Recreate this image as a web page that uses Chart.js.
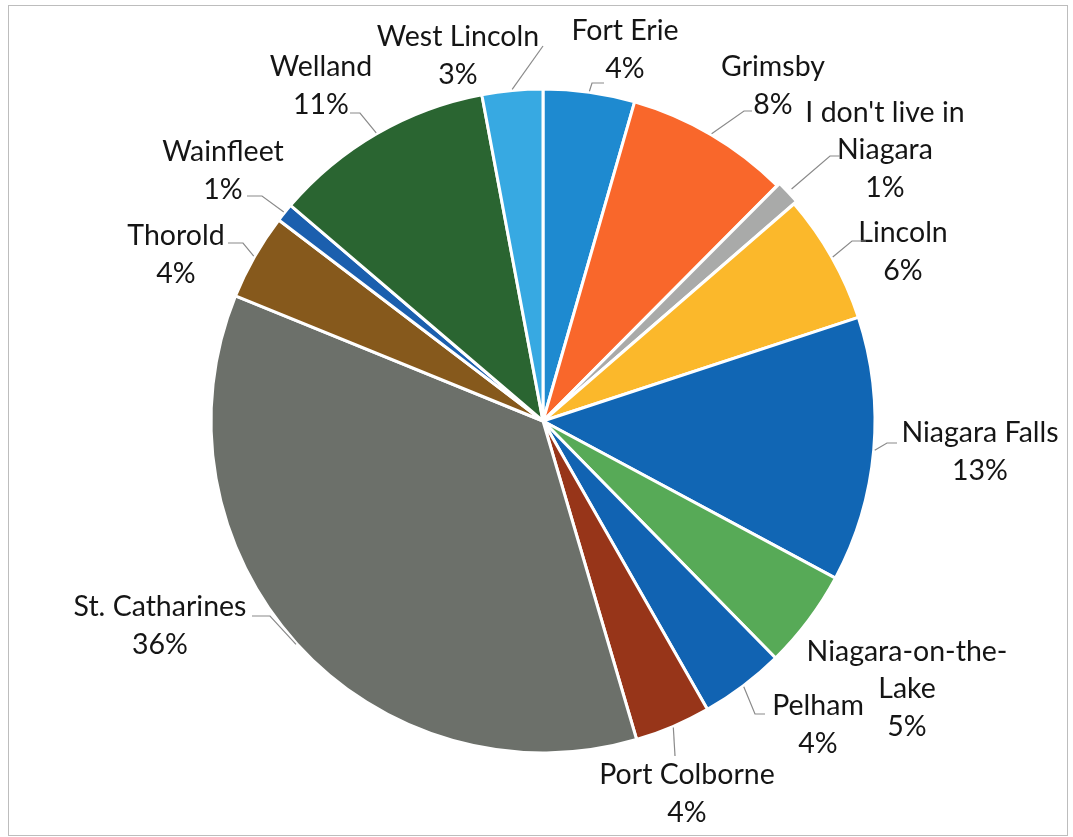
<!doctype html>
<html lang="en">

<head>
  <meta charset="utf-8">
  <meta name="viewport" content="width=device-width, initial-scale=1">
  <script src="https://cdn.jsdelivr.net/npm/chart.js@4.4.1/dist/chart.umd.min.js"></script>
  <title>Where respondents live</title>
  <style>
    body { margin: 0; background: #fff; }
    #wrap { width: 1073px; height: 837px; }
  </style>
</head>

<body>
  <div id="wrap">
    <canvas id="myChart" width="1073" height="837"></canvas>
  </div>
  <script>
    // share of respondents by municipality, in percent
    const categories = [
      'Fort Erie', 'Grimsby', "I don't live in Niagara", 'Lincoln', 'Niagara Falls',
      'Niagara-on-the-Lake', 'Pelham', 'Port Colborne', 'St. Catharines', 'Thorold',
      'Wainfleet', 'Welland', 'West Lincoln'
    ];
    const shares = [4.45, 8.0, 1.2, 6.3, 12.9, 4.8, 4.1, 3.7, 35.7, 4.2, 0.9, 10.8, 2.95];
    const colors = [
      '#1e8ad0', '#f9672b', '#a9aaa9', '#fbb82b', '#1166b4', '#57aa57', '#1163b2',
      '#973519', '#6c706a', '#86591c', '#1b5fae', '#2a6531', '#37a9e2'
    ];
    const explode = [0, 0, 7, 0, 0, 0, 0, 0, 0, 0, 0, 0, 0];

    // long names are broken the same way every time
    const lineBreaks = {
      "I don't live in Niagara": ["I don't live in", 'Niagara'],
      'Niagara-on-the-Lake': ['Niagara-on-the-', 'Lake'],
    };

    // label block centres, relative to the pie centre
    const labelAt = [
      [82, -371], [230, -335], [342, -271], [360, -169], [437, 31],
      [364, 268], [275, 304], [144, 373], [-383, 205], [-367, -166],
      [-320, -250], [-222, -335], [-85, -365]
    ];
    // leader line: end point relative to the label centre, then a horizontal
    // tail of the given length back toward the pie (null = no leader)
    const leaderEnd = [
      [-21, 33, -12], [-21, 25, -8], [-45, 6, -10], [-37, -11, -14], [-83, -9, -10],
      null, [-53, -11, -10], [-12, -38, 0], [92, -10, 18], [52, -12, 15],
      [24, 25, 15], [29, 27, 10], [85, -10, 0]
    ];

    const lineHeight = 37.5;
    const total = shares.reduce((a, b) => a + b, 0);

    const framePlugin = {
      id: 'frame',
      beforeDraw(chart) {
        const ctx = chart.ctx;
        ctx.save();
        ctx.strokeStyle = '#bdbdbd';
        ctx.lineWidth = 1;
        ctx.strokeRect(8.5, 5.5, 1059, 830);
        ctx.restore();
      }
    };

    const labelPlugin = {
      id: 'pieLabels',
      afterDatasetsDraw(chart) {
        const ctx = chart.ctx;
        const arcs = chart.getDatasetMeta(0).data;
        ctx.save();
        ctx.font = '28.5px Lato';
        ctx.fillStyle = '#151515';
        ctx.textAlign = 'center';
        ctx.textBaseline = 'middle';
        arcs.forEach((arc, i) => {
          const p = arc.getProps(['x', 'y', 'startAngle', 'endAngle', 'outerRadius'], true);
          const mid = (p.startAngle + p.endAngle) / 2;
          const cx = p.x + labelAt[i][0];
          const cy = p.y + labelAt[i][1];
          const pct = Math.round(shares[i] / total * 100) + '%';
          const lines = (lineBreaks[categories[i]] || [categories[i]]).concat(pct);
          const top = cy - (lines.length - 1) * lineHeight / 2;
          lines.forEach((t, k) => ctx.fillText(t, cx, top + k * lineHeight));

          const le = leaderEnd[i];
          if (!le) return;
          const r = p.outerRadius + explode[i] + 1;
          const sx = p.x + Math.cos(mid) * r;
          const sy = p.y + Math.sin(mid) * r;
          const ex = cx + le[0];
          const ey = cy + le[1];
          ctx.beginPath();
          ctx.strokeStyle = '#8a8a8a';
          ctx.lineWidth = 1.2;
          ctx.moveTo(sx, sy);
          ctx.lineTo(ex + le[2], ey);
          ctx.lineTo(ex, ey);
          ctx.stroke();
        });
        ctx.restore();
      }
    };

    const config = {
      type: 'pie',
      data: {
        labels: categories,
        datasets: [{
          data: shares,
          backgroundColor: colors,
          borderColor: '#ffffff',
          borderWidth: 3,
          offset: explode,
        }]
      },
      options: {
        responsive: false,
        animation: false,
        devicePixelRatio: 1,
        layout: { padding: { left: 200, right: 187, top: 84, bottom: 79 } },
        plugins: {
          legend: { display: false },
          tooltip: { enabled: false },
        }
      },
      plugins: [framePlugin, labelPlugin]
    };

    const ctx = document.getElementById('myChart').getContext('2d');
    const myChart = new Chart(ctx, config);
  </script>
</body>

</html>
